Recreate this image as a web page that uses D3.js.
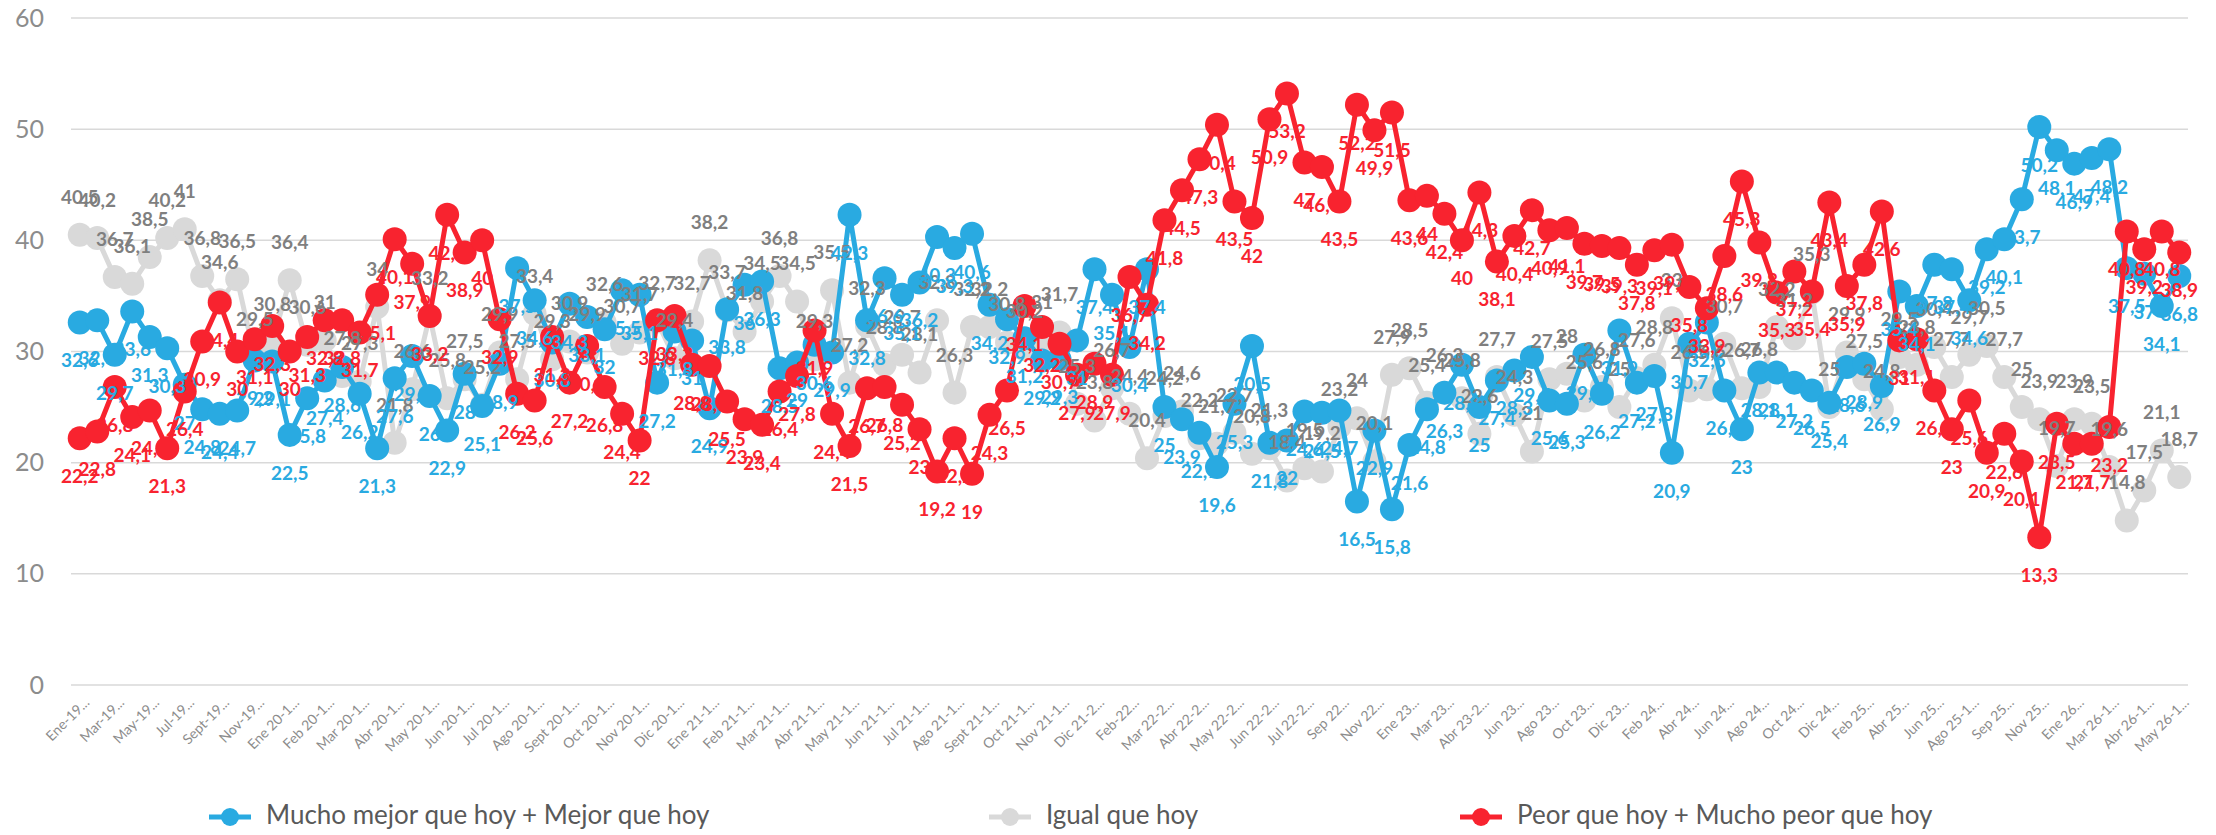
<!DOCTYPE html>
<html><head><meta charset="utf-8">
<script src="https://cdn.jsdelivr.net/npm/d3@7"></script>
<style>body{margin:0;background:#fff}svg{display:block}</style>
</head><body>
<svg id="chart" width="2216" height="835"></svg>
<script>
const categories = [
"Ene-19...","Feb-19...","Mar-19...","Abr-19...","May-19...","Jun-19...","Jul-19...","Ago-19...","Sept-19...","Oct-19...","Nov-19...","Dic-19...",
"Ene 20-1...","Ene 20-2...","Feb 20-1...","Feb 20-2...","Mar 20-1...","Mar 20-2...","Abr 20-1...","Abr 20-2...","May 20-1...","May 20-2...","Jun 20-1...","Jun 20-2...",
"Jul 20-1...","Jul 20-2...","Ago 20-1...","Ago 20-2...","Sept 20-1...","Sept 20-2...","Oct 20-1...","Oct 20-2...","Nov 20-1...","Nov 20-2...","Dic 20-1...","Dic 20-2...",
"Ene 21-1...","Ene 21-2...","Feb 21-1...","Feb 21-2...","Mar 21-1...","Mar 21-2...","Abr 21-1...","Abr 21-2...","May 21-1...","May 21-2...","Jun 21-1...","Jun 21-2...",
"Jul 21-1...","Jul 21-2...","Ago 21-1...","Ago 21-2...","Sept 21-1...","Sept 21-2...","Oct 21-1...","Oct 21-2...","Nov 21-1...","Dic 21-1...","Dic 21-2...","Ene-22...",
"Feb-22...","Mar 22-1...","Mar 22-2...","Abr 22-1...","Abr 22-2...","May 22-1...","May 22-2...","Jun 22-1...","Jun 22-2...","Jul 22-1...","Jul 22-2...","Ago 22...",
"Sep 22...","Oct 22...","Nov 22...","Dic 22...","Ene 23...","Feb 23...","Mar 23...","Abr 23-1...","Abr 23-2...","May 23...","Jun 23...","Jul 23...",
"Ago 23...","Sep 23...","Oct 23...","Nov 23...","Dic 23...","Ene 24...","Feb 24...","Mar 24...","Abr 24...","May 24...","Jun 24...","Jul 24...",
"Ago 24...","Sep 24...","Oct 24...","Nov 24...","Dic 24...","Ene 25...","Feb 25...","Mar 25...","Abr 25...","May 25...","Jun 25...","Jul 25...",
"Ago 25-1...","Ago 25-2...","Sep 25...","Oct 25...","Nov 25...","Dic 25...","Ene 26...","Feb 26...","Mar 26-1...","Mar 26-2...","Abr 26-1...","Abr 26-2...",
"May 26-1..."
];
const seriesNames = ["Mucho mejor que hoy + Mejor que hoy", "Igual que hoy", "Peor que hoy + Mucho peor que hoy"];
const mejor = [
32.6,32.8,29.7,33.6,31.3,30.3,27.0,24.8,24.4,24.7,
29.2,29.1,22.5,25.8,27.4,28.6,26.2,21.3,27.6,29.6,
26.0,22.9,28.0,25.1,28.9,37.5,34.6,30.8,34.3,33.1,
32.0,35.5,35.1,27.2,31.8,31.0,24.9,33.8,36.0,36.3,
28.5,29.0,30.6,29.9,42.3,32.8,36.6,35.1,36.2,40.3,
39.3,40.6,34.2,32.9,31.2,29.2,29.3,31.0,37.4,35.1,
30.4,37.4,25.0,23.9,22.7,19.6,25.3,30.5,21.8,22.0,
24.6,24.5,24.7,16.5,22.9,15.8,21.6,24.8,26.3,28.8,
25.0,27.4,28.3,29.5,25.6,25.3,29.7,26.2,31.9,27.2,
27.8,20.9,30.7,32.6,26.5,23.0,28.1,28.1,27.2,26.5,
25.4,28.6,28.9,26.9,35.4,34.1,37.8,37.4,34.6,39.2,
40.1,43.7,50.2,48.1,46.9,47.4,48.2,37.5,37.0,34.1,
36.8];
const igual = [
40.5,40.2,36.7,36.1,38.5,40.2,41.0,36.8,34.6,36.5,
29.5,30.8,36.4,30.6,31.0,27.8,27.3,34.0,21.8,26.6,
33.2,25.8,27.5,25.2,29.9,27.5,33.4,29.3,30.9,29.9,
32.6,30.7,31.7,32.7,29.4,32.7,38.2,33.7,31.8,34.5,
36.8,34.5,29.3,35.5,27.2,32.3,28.8,29.7,28.1,32.8,
26.3,32.2,32.2,30.8,30.2,31.0,31.7,25.3,23.8,26.7,
24.4,20.4,24.2,24.6,22.2,21.7,22.7,20.8,21.3,18.4,
19.5,19.2,23.2,24.0,20.1,27.9,28.5,25.4,26.3,25.8,
22.6,27.7,24.3,21.0,27.5,28.0,25.6,26.8,25.0,27.6,
28.8,33.0,26.5,26.6,30.7,26.7,26.8,32.2,31.2,35.3,
25.0,29.9,27.5,24.8,29.5,28.8,30.4,27.7,29.7,30.5,
27.7,25.0,23.9,19.7,23.9,23.5,19.6,14.8,17.5,21.1,
18.7];
const peor = [
22.2,22.8,26.8,24.1,24.7,21.3,26.4,30.9,34.4,30.0,
31.1,32.3,30.0,31.3,32.8,32.8,31.7,35.1,40.1,37.9,
33.2,42.3,38.9,40.0,32.9,26.2,25.6,31.3,27.2,30.5,
26.8,24.4,22.0,32.8,33.2,28.8,28.7,25.5,23.9,23.4,
26.4,27.8,31.9,24.4,21.5,26.7,26.8,25.2,23.0,19.2,
22.2,19.0,24.3,26.5,34.1,32.2,30.7,27.9,28.9,27.9,
36.7,34.2,41.8,44.5,47.3,50.4,43.5,42.0,50.9,53.2,
47.0,46.6,43.5,52.2,49.9,51.5,43.6,44.0,42.4,40.0,
44.3,38.1,40.4,42.7,40.9,41.1,39.7,39.5,39.3,37.8,
39.1,39.6,35.8,33.9,38.6,45.3,39.8,35.3,37.2,35.4,
43.4,35.9,37.8,42.6,31.0,31.1,26.5,23.0,25.6,20.9,
22.6,20.1,13.3,23.5,21.7,21.7,23.2,40.8,39.2,40.8,
38.9];
const yTicks = [0, 10, 20, 30, 40, 50, 60];

(function () {
const FONT = "Lato, 'Open Sans', sans-serif";
const colors = {mejor: "#29AAE1", igual: "#D9D9D9", peor: "#F8232F"};
const labelColors = {mejor: "#29AAE1", igual: "#7F7F7F", peor: "#F8232F"};

const svg = d3.select("#chart");
const plotL = 71, plotR = 2188, plotT = 18, plotB = 685;

const x = d3.scaleBand().domain(categories).range([plotL, plotR]).padding(0);
const cx = d => x(d) + x.bandwidth() / 2;
const y = d3.scaleLinear().domain([0, 60]).range([plotB, plotT]);

svg.append("g").selectAll("line").data(yTicks).join("line")
  .attr("x1", plotL).attr("x2", plotR)
  .attr("y1", d => y(d)).attr("y2", d => y(d))
  .attr("stroke", "#D9D9D9").attr("stroke-width", 1.5);

const yAxis = svg.append("g").attr("transform", `translate(${plotL},0)`)
  .call(d3.axisLeft(y).tickValues(yTicks).tickSize(0).tickPadding(27).tickFormat(d3.format("d")));
yAxis.select(".domain").remove();
yAxis.selectAll("text").attr("font-family", FONT).attr("font-size", 25).attr("fill", "#8C8C8C");

const xAxis = svg.append("g").attr("transform", `translate(0,${plotB})`)
  .call(d3.axisBottom(x).tickValues(categories.filter((d, i) => i % 2 === 0)).tickSize(0));
xAxis.select(".domain").remove();
xAxis.selectAll("text")
  .attr("font-family", FONT).attr("font-size", 14).attr("fill", "#8C8C8C")
  .attr("text-anchor", "end").attr("y", 0).attr("dy", "0.35em")
  .attr("transform", "translate(7,15) rotate(-45)");

const series = [
  {key: "igual", values: igual},
  {key: "mejor", values: mejor},
  {key: "peor", values: peor}
];

const line = d3.line().x((d, i) => cx(categories[i])).y(d => y(d));

series.forEach(s => {
  const g = svg.append("g");
  g.append("path").datum(s.values).attr("d", line)
    .attr("fill", "none").attr("stroke", colors[s.key]).attr("stroke-width", 5)
    .attr("stroke-linejoin", "round");
  g.selectAll("circle").data(s.values).join("circle")
    .attr("cx", (d, i) => cx(categories[i])).attr("cy", d => y(d)).attr("r", 12)
    .attr("fill", colors[s.key]);
});

const fmt = v => String(Math.round(v * 10) / 10).replace(".", ",");
const offsets = {igual: -36, mejor: 40, peor: 40};
series.forEach(s => {
  svg.append("g").selectAll("text").data(s.values).join("text")
    .attr("x", (d, i) => cx(categories[i])).attr("y", d => y(d) + offsets[s.key])
    .attr("text-anchor", "middle").attr("dominant-baseline", "middle")
    .attr("font-family", FONT).attr("font-weight", "bold").attr("font-size", 19)
    .attr("fill", labelColors[s.key])
    .text(d => fmt(d));
});

const legendItems = [
  {key: "mejor", name: seriesNames[0], x: 230},
  {key: "igual", name: seriesNames[1], x: 1010},
  {key: "peor", name: seriesNames[2], x: 1481}
];
const lg = svg.append("g").attr("transform", "translate(0,817)");
legendItems.forEach(it => {
  lg.append("line").attr("x1", it.x - 21).attr("x2", it.x + 21).attr("y1", 0).attr("y2", 0)
    .attr("stroke", colors[it.key]).attr("stroke-width", 5);
  lg.append("circle").attr("cx", it.x).attr("cy", 0).attr("r", 9).attr("fill", colors[it.key]);
  lg.append("text").attr("x", it.x + 36).attr("y", 0).attr("dominant-baseline", "middle")
    .attr("font-family", FONT).attr("font-size", 26).attr("fill", "#595959").text(it.name);
});
})();
</script>
</body></html>
